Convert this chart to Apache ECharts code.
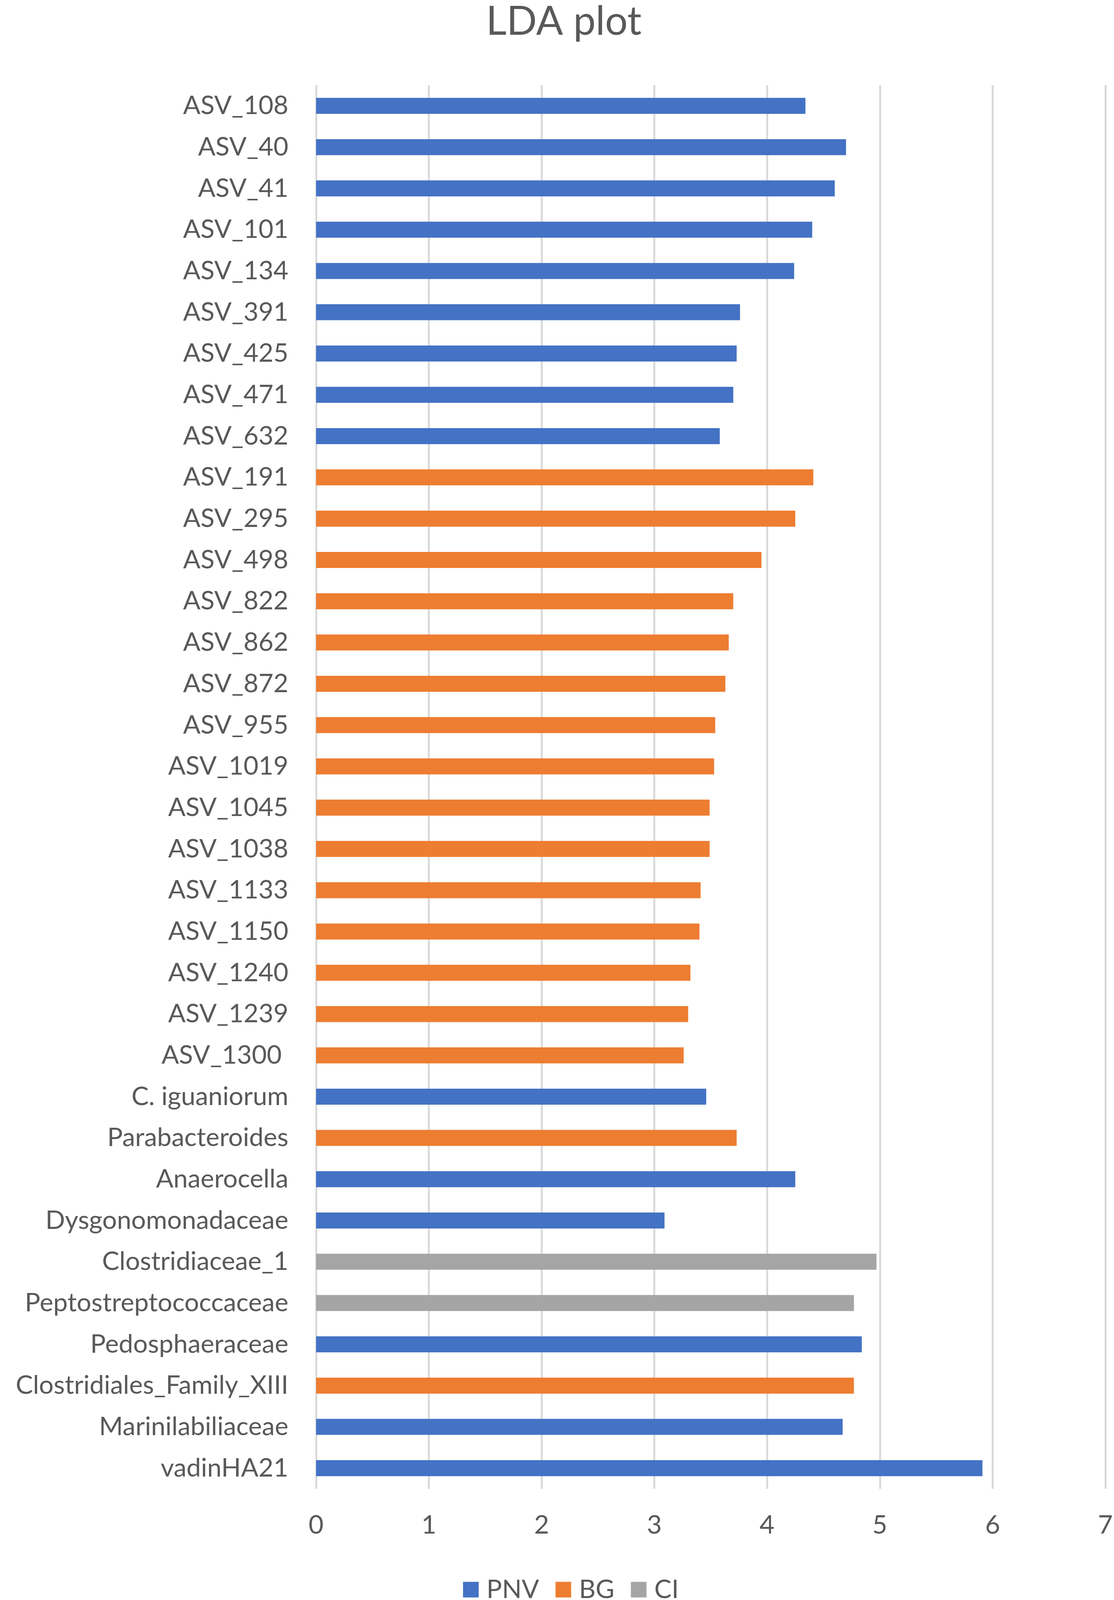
<!DOCTYPE html>
<html>
<head>
<meta charset="utf-8">
<script src="https://cdn.jsdelivr.net/npm/echarts@6/dist/echarts.min.js"></script>
<style>
html,body{margin:0;padding:0;background:#fff;overflow:hidden;}
#chart{width:100vw;height:100vh;}
</style>
</head>
<body>
<div id="chart"></div>
<script>
const categories = [
  'ASV_108','ASV_40','ASV_41','ASV_101','ASV_134','ASV_391','ASV_425','ASV_471','ASV_632',
  'ASV_191','ASV_295','ASV_498','ASV_822','ASV_862','ASV_872','ASV_955','ASV_1019','ASV_1045',
  'ASV_1038','ASV_1133','ASV_1150','ASV_1240','ASV_1239','ASV_1300 ','C. iguaniorum',
  'Parabacteroides','Anaerocella','Dysgonomonadaceae','Clostridiaceae_1','Peptostreptococcaceae',
  'Pedosphaeraceae','Clostridiales_Family_XIII','Marinilabiliaceae','vadinHA21'
];
const ldaValues = [
  4.34, 4.70, 4.60, 4.40, 4.24, 3.76, 3.73, 3.70, 3.58,
  4.41, 4.25, 3.95, 3.70, 3.66, 3.63, 3.54, 3.53, 3.49,
  3.49, 3.41, 3.40, 3.32, 3.30, 3.26, 3.46,
  3.73, 4.25, 3.09, 4.97, 4.77,
  4.84, 4.77, 4.67, 5.91
];
const groups = [
  'PNV','PNV','PNV','PNV','PNV','PNV','PNV','PNV','PNV',
  'BG','BG','BG','BG','BG','BG','BG','BG','BG',
  'BG','BG','BG','BG','BG','BG','PNV',
  'BG','PNV','PNV','CI','CI',
  'PNV','BG','PNV','PNV'
];
const seriesNames = ['PNV','BG','CI'];
const seriesColors = ['#4472C4','#ED7D31','#A5A5A5'];
const xTicks = [0,1,2,3,4,5,6,7];

const textColor = '#595959';
const fontFamily = 'Lato';

const el = document.getElementById('chart');
const chart = echarts.init(el, null, {renderer: 'canvas'});
const W = chart.getWidth();
const H = chart.getHeight();
const kx = W / 2851;
const ky = H / 4188;

const series = seriesNames.map((name, i) => ({
  name: name,
  type: 'bar',
  stack: 'all',
  barWidth: Math.round(42 * ky),
  itemStyle: { color: seriesColors[i] },
  data: ldaValues.map((v, k) => groups[k] === name ? v : '-')
}));

chart.setOption({
  backgroundColor: '#ffffff',
  animation: false,
  title: {
    text: 'LDA plot',
    left: 1438 * kx,
    textAlign: 'center',
    top: 0,
    textStyle: { fontFamily: fontFamily, fontSize: 102, fontWeight: 'normal', color: textColor }
  },
  legend: {
    data: seriesNames,
    left: 1180 * kx,
    top: 4122 * ky,
    itemWidth: 40,
    itemHeight: 40,
    itemGap: 42,
    icon: 'rect',
    textStyle: { fontFamily: fontFamily, fontSize: 66, color: textColor, padding: [0, 0, 0, 15] }
  },
  grid: { left: 809 * kx, right: (2851 - 2830) * kx, top: 223 * ky, bottom: (4188 - 3897) * ky, containLabel: false },
  xAxis: {
    type: 'value',
    min: xTicks[0],
    max: xTicks[xTicks.length - 1],
    interval: 1,
    axisLine: { show: false },
    axisTick: { show: false },
    splitLine: { show: true, lineStyle: { color: '#D9D9D9', width: 5 } },
    axisLabel: { margin: 62 * ky, fontFamily: fontFamily, fontSize: 66, color: textColor }
  },
  yAxis: {
    type: 'category',
    data: categories,
    inverse: true,
    axisLine: { show: false },
    axisTick: { show: false },
    splitLine: { show: false },
    axisLabel: { margin: 71 * kx, fontFamily: fontFamily, fontSize: 66, color: textColor, interval: 0 }
  },
  series: series
});
</script>
</body>
</html>
